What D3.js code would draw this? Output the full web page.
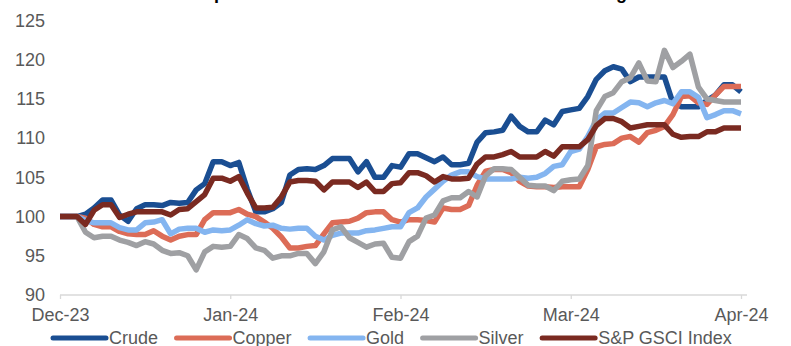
<!DOCTYPE html>
<html>
<head>
<meta charset="utf-8">
<script src="https://cdn.jsdelivr.net/npm/d3@7"></script>
<style>
  html, body { margin: 0; padding: 0; background: #fff; overflow: hidden; }
  svg { display: block; }
  text { font-family: "Liberation Sans", Arial, sans-serif; }
</style>
</head>
<body>
<svg id="chart" width="791" height="346"></svg>
<script>
// ---- data ----
const titleText = "Metals rallied on hopes of rate cuts and a rebound in manufacturing in China";
const monthLabels = ["Dec-23", "Jan-24", "Feb-24", "Mar-24", "Apr-24"];
const yTicks = [90, 95, 100, 105, 110, 115, 120, 125];
const seriesNames = ["Crude", "Copper", "Gold", "Silver", "S&P GSCI Index"];
const pointsPerMonth = 20;

const crude = [100,100,100,100.3,101.1,102.1,102.1,100.2,99.4,101,101.5,101.5,101.4,101.8,101.7,101.8,103.4,104.2,107,107,
  106.5,106.9,103.5,100.6,100.6,101,101.8,105.3,106,106.1,106,106.5,107.4,107.4,107.4,105.7,107,105,105,106.5,
  106.3,108,108,107.5,107,107.6,106.6,106.6,106.8,109.5,110.7,110.8,111,112.8,111.5,110.8,110.8,112.3,111.7,113.4,
  113.6,113.8,115.3,117.5,118.6,119.1,118.8,117.2,117.8,117.8,117.8,117.8,114.5,114,114,114,114.8,115.5,116.8,116.8,115.9];
const copper = [100,100,100,99.8,99,98.7,98.7,98.1,97.8,97.7,97.7,98.2,97.5,97,97.5,97.7,97.7,99.6,100.5,100.5,
  100.5,100.9,100.3,100,99.3,98.5,97.4,96,96,96.2,96.3,97.8,99.2,99.3,99.4,99.8,100.5,100.6,100.6,99.6,
  99.3,99.6,99.6,99.5,99.3,101.1,100.9,100.9,101.4,104,105.8,106,106,105.6,104.5,103.9,103.8,103.8,103.7,103.8,
  103.8,103.8,106,108.9,109.2,109.3,110,110.2,109.5,110.7,111,111.5,113,115.3,115.4,114.5,114.3,115.5,116.6,116.6,116.6];
const gold = [100,100,100,99.5,99.2,99.2,99.2,98.6,98.3,98.3,99.2,99.3,99.6,97.8,98.4,98.5,98.5,98,98.3,98.2,
  98.3,98.9,99.6,99.1,98.8,98.9,98.5,98.4,98.5,98.5,97.5,97,97.6,97.9,97.9,97.9,98.2,98.3,98.5,98.7,
  98.7,100.5,101.1,102.5,103.5,104.5,105.3,105.7,105.7,105.1,104.8,104.8,104.8,104.8,105,104.9,105,105.5,106.4,106.6,
  108.3,108.6,110.2,112.3,113.2,113.2,113.9,114.6,114.5,114,114.5,114.8,114.4,115.9,115.9,115.2,112.6,113,113.5,113.5,113.1];
const silver = [100,100,100,98,97.3,97.5,97.5,97,96.7,96.3,96.8,96.5,95.7,95.3,95.4,95,93.2,95.5,96.2,96.1,
  96.2,97.7,97.2,96,95.7,94.7,95,95,95.3,95.3,94,95.5,98.3,98.7,97.3,96.7,96.1,96.5,96.6,94.8,
  94.7,96.8,97.5,99.8,100.2,102,102.4,102.4,103.2,102.5,105.2,106.1,106.1,106,105,104,103.9,103.9,103.3,104.5,
  104.7,104.8,106.5,113.5,115.3,115.8,117.2,117.7,119.6,117.3,117.2,121.2,119,119.8,120.7,116.5,115,114.8,114.6,114.6,114.6];
const gsci = [100,100,100,99,100.8,101.5,101.5,99.9,100.3,100.6,100.6,100.6,100.6,100.2,100.9,101,101.9,102.8,104.9,104.9,
  104.5,105.1,103,101.1,101.1,101.2,102.5,104.4,104.6,104.6,104.5,103.4,104.4,104.4,104.4,103.7,104.4,103.2,103.2,104.2,
  104.3,105.6,105.6,105.2,104.4,105.1,104.8,104.8,104.9,106.7,107.6,107.6,107.9,108.3,107.6,107.6,107.6,108.3,107.7,108.9,
  108.9,108.9,109.8,111.6,112.5,112.5,112.1,111.3,111.5,111.7,111.7,111.7,110.5,110.1,110.2,110.2,110.8,110.8,111.3,111.3,111.3];

const seriesValues = [crude, copper, gold, silver, gsci];
const seriesColors = ["#1A4E92", "#DC6C57", "#84B5F0", "#9FA0A3", "#7A2A21"];

// ---- layout ----
const svg = d3.select("#chart");
const x = d3.scaleLinear().domain([0, monthLabels.length - 1]).range([60, 741]);
const y = d3.scaleLinear().domain([90, 125]).range([295, 20.5]);

// title (clipped at top, only descenders visible as in the reference)
svg.append("text")
  .attr("x", 46).attr("y", -1.5)
  .attr("font-size", 18).attr("font-weight", "bold").attr("fill", "#000")
  .text(titleText);

// x axis
const xAxis = d3.axisBottom(x)
  .tickValues(d3.range(monthLabels.length))
  .tickFormat(i => monthLabels[i])
  .tickSize(4).tickSizeOuter(0).tickPadding(9);
const gx = svg.append("g").attr("transform", "translate(0,295)").call(xAxis);
gx.select(".domain").attr("stroke", "#D9D9D9").attr("stroke-width", 1.3)
  .attr("d", `M${x(0)},0H747`);
gx.selectAll(".tick line").attr("stroke", "#D9D9D9").attr("stroke-width", 1.3);
gx.selectAll(".tick text").attr("font-size", 18).attr("fill", "#595959")
  .attr("font-family", "'Liberation Sans', Arial, sans-serif");

// y axis labels (no axis line)
const yAxis = d3.axisLeft(y).tickValues(yTicks).tickSize(0).tickPadding(0);
const gy = svg.append("g").attr("transform", "translate(45,0)").call(yAxis);
gy.select(".domain").remove();
gy.selectAll(".tick text").attr("font-size", 18).attr("fill", "#595959")
  .attr("font-family", "'Liberation Sans', Arial, sans-serif");

// lines
const line = d3.line()
  .x((d, i) => x(i / pointsPerMonth))
  .y(d => y(d))
  .curve(d3.curveLinear);

svg.append("g").selectAll("path")
  .data(seriesValues)
  .join("path")
  .attr("d", d => line(d))
  .attr("fill", "none")
  .attr("stroke", (d, i) => seriesColors[i])
  .attr("stroke-width", 5.5)
  .attr("stroke-linejoin", "round")
  .attr("stroke-linecap", "butt");

// legend
const lg = svg.append("g").attr("class", "legend");
let lx = 53;
seriesNames.forEach((name, i) => {
  lg.append("line")
    .attr("x1", lx).attr("x2", lx + 53)
    .attr("y1", 338).attr("y2", 338)
    .attr("stroke", seriesColors[i]).attr("stroke-width", 5)
    .attr("stroke-linecap", "round");
  const t = lg.append("text")
    .attr("x", lx + 56).attr("y", 343.5)
    .attr("font-size", 18).attr("fill", "#595959")
    .text(name);
  lx = lx + 56 + t.node().getComputedTextLength() + 18.5;
});
</script>
</body>
</html>
